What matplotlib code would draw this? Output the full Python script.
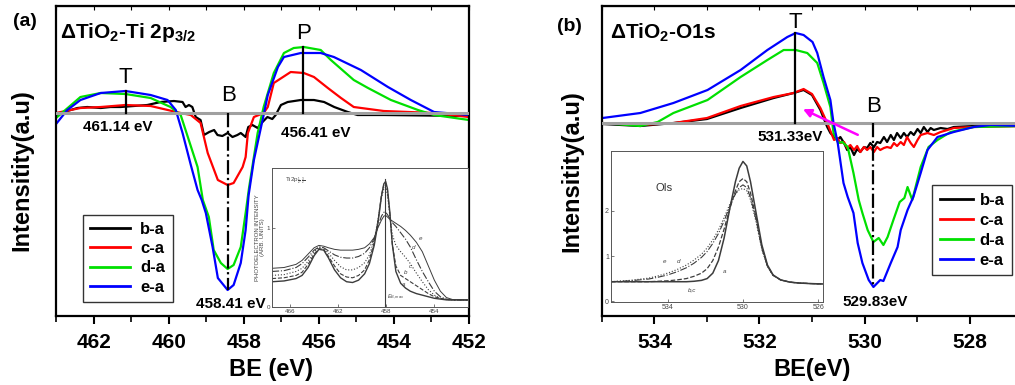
import numpy as np
import matplotlib.pyplot as plt

plt.rcParams['font.family'] = ['Liberation Sans', 'DejaVu Sans']
plt.rcParams['mathtext.fontset'] = 'custom'
plt.rcParams['mathtext.rm'] = 'Liberation Sans'
plt.rcParams['mathtext.bf'] = 'Liberation Sans:bold'
plt.rcParams['mathtext.it'] = 'Liberation Sans:italic'

# ---------------- panel (a): Ti 2p3/2 difference spectra ----------------
ti_be_b = [462.99, 462.70, 462.43, 462.17, 461.81, 461.55, 461.28, 460.93, 460.57, 460.21,
           459.86, 459.63, 459.55, 459.46, 459.37, 459.28, 459.15, 459.06, 458.92, 458.79,
           458.70, 458.57, 458.43, 458.30, 458.17, 458.08, 457.95, 457.88, 457.77, 457.63,
           457.50, 457.37, 457.24, 457.15, 457.01, 456.83, 456.48, 456.13, 455.86, 455.59,
           455.23, 454.97, 454.26, 452.0]
ti_b = [-2, 2, 5, 6, 5, 6, 6, 7, 8, 11, 12, 11, 6, 8, 6, -4, -7, -22, -19, -17,
        -22, -23, -20, -24, -22, -20, -24, -14, -12, -15, -9, -4, -6, -2, 8, 11, 13, 13, 11, 6,
        1, -2, -2, -3]

ti_be_c = [463.0, 462.35, 461.81, 461.15, 460.48, 459.68, 459.41, 459.15, 458.96, 458.69,
           458.43, 458.27, 458.03, 457.95, 457.89, 457.73, 457.47, 457.36, 457.20, 456.75,
           456.40, 456.13, 455.76, 455.41, 455.07, 454.27, 452.93, 452.0]
ti_c = [0, 5, 6, 8, 7, 0, -2, -10, -40, -67, -72, -70, -54, -44, -20, -4, 0, 6, 30, 41,
        40, 36, 25, 15, 6, 2, 0, -4]

ti_be_d = [463.0, 462.35, 461.81, 461.15, 460.48, 459.95, 459.68, 459.23, 459.09, 458.93,
           458.80, 458.61, 458.43, 458.27, 458.08, 457.95, 457.86, 457.63, 457.47, 457.20,
           456.93, 456.67, 456.40, 455.95, 455.68, 455.07, 454.69, 454.08, 453.36, 452.93, 452.0]
ti_d = [-5, 16, 20, 19, 15, 6, -2, -54, -87, -104, -137, -150, -156, -152, -134, -100, -75,
        -20, 6, 40, 60, 65, 66, 63, 53, 33, 25, 13, 3, -2, -7]

ti_be_e = [463.0, 462.7, 462.35, 461.81, 461.15, 460.48, 460.03, 459.81, 459.63, 459.41,
           459.23, 459.12, 459.01, 458.83, 458.69, 458.43, 458.27, 458.08, 457.95, 457.87,
           457.73, 457.47, 457.36, 457.09, 456.93, 456.48, 455.95, 455.60, 454.88, 454.16,
           453.55, 452.93, 452.0]
ti_e = [-11, 3, 13, 20, 22, 18, 13, 3, -20, -52, -77, -87, -100, -134, -165, -177, -172,
        -150, -117, -82, -47, -2, 18, 46, 56, 60, 60, 56, 43, 26, 13, 1, -2]

ti_marks = [461.14, 458.41, 456.41]
ti_mark_tops = [22, -177, 66]
ti_ticks = [462, 460, 458, 456, 454, 452]

# ---------------- panel (b): O1s difference spectra ----------------
o_be_b = [534.99, 534.27, 533.63, 533.0, 532.36, 531.73, 531.35, 531.16, 531.0, 530.84,
          530.71, 530.65, 530.58, 530.52, 530.46, 530.39, 530.33, 530.27, 530.20, 530.14,
          530.08, 530.01, 529.95, 529.89, 529.82, 529.76, 529.70, 529.63, 529.57, 529.50,
          529.44, 529.38, 529.31, 529.25, 529.19, 529.12, 529.06, 528.99, 528.93, 528.87,
          528.80, 528.74, 528.68, 528.55, 528.42, 528.30, 527.92, 527.0]
o_b = [-1, -3, 0, 4, 15, 25, 30, 33, 28, 13, -4, -10, -14, -17, -14, -20, -27, -24, -32, -26,
       -29, -24, -25, -20, -24, -19, -20, -14, -19, -12, -17, -10, -15, -10, -14, -9, -12, -6,
       -10, -4, -9, -5, -7, -5, -6, -4, -3, -3]

o_be_c = [534.99, 534.27, 533.63, 533.0, 532.36, 531.73, 531.35, 531.16, 531.0, 530.84,
          530.71, 530.58, 530.52, 530.46, 530.39, 530.33, 530.27, 530.20, 530.14, 530.08,
          530.01, 529.95, 529.89, 529.82, 529.76, 529.70, 529.63, 529.57, 529.50, 529.44,
          529.38, 529.31, 529.25, 529.19, 529.12, 529.06, 528.99, 528.93, 528.80, 528.68,
          528.55, 528.42, 528.30, 527.92, 527.0]
o_c = [0, -2, 0, 5, 17, 26, 30, 34, 29, 15, 0, -17, -15, -20, -19, -25, -22, -27, -23, -29,
       -24, -27, -24, -29, -24, -27, -25, -24, -25, -20, -23, -19, -22, -14, -20, -24, -17,
       -12, -10, -12, -9, -7, -5, -4, -3]

o_be_d = [534.99, 534.27, 533.94, 533.64, 532.99, 532.36, 531.85, 531.54, 531.31, 531.09,
          530.90, 530.78, 530.65, 530.59, 530.50, 530.42, 530.32, 530.21, 530.11, 530.04,
          529.94, 529.83, 529.73, 529.64, 529.56, 529.45, 529.33, 529.24, 529.18, 529.09,
          528.93, 528.78, 528.61, 528.36, 527.92, 527.0]
o_d = [0, -3, 1, 10, 23, 46, 63, 73, 73, 70, 60, 40, 16, -10, -20, -19, -24, -50, -77, -90,
       -107, -119, -115, -122, -114, -97, -79, -75, -64, -77, -44, -24, -17, -9, -4, -3]

o_be_e = [534.99, 534.27, 533.64, 532.99, 532.36, 531.85, 531.47, 531.31, 531.16, 530.99,
          530.90, 530.78, 530.65, 530.59, 530.51, 530.40, 530.32, 530.21, 530.13, 530.04,
          529.92, 529.83, 529.70, 529.64, 529.50, 529.37, 529.31, 529.18, 529.07, 528.93,
          528.80, 528.61, 528.30, 527.92, 527.60, 527.0]
o_e = [5, 10, 20, 33, 53, 73, 86, 90, 88, 81, 70, 46, 23, 0, -20, -60, -74, -90, -120, -140,
       -157, -164, -157, -158, -140, -124, -107, -87, -74, -50, -27, -14, -9, -4, -2, -3]

o_marks = [531.33, 529.83]
o_mark_tops = [90, -164]
o_ticks = [534, 532, 530, 528]

# ---------------- insets (reference spectra) ----------------
ins_ti_be = [467.5, 466.5, 465.5, 465.0, 464.5, 464.0, 463.6, 463.2, 462.8, 462.3,
             461.8, 461.3, 460.8, 460.3, 459.8, 459.4, 459.0, 458.7, 458.4, 458.2,
             458.05, 457.9, 457.7, 457.5, 457.2, 456.8, 456.4, 456.0, 455.5, 455.0,
             454.5, 454.0, 453.5, 453.0, 452.5, 451.2]
ins_ti_a = [0.32, 0.33, 0.36, 0.40, 0.50, 0.65, 0.73, 0.72, 0.62, 0.47,
            0.37, 0.32, 0.31, 0.34, 0.42, 0.55, 0.78, 1.05, 1.40, 1.56,
            1.59, 1.50, 1.20, 0.80, 0.45, 0.30, 0.24, 0.20, 0.17, 0.15,
            0.13, 0.11, 0.10, 0.09, 0.089, 0.089]
ins_ti_b = [0.36, 0.37, 0.40, 0.44, 0.54, 0.67, 0.74, 0.73, 0.64, 0.52,
            0.42, 0.38, 0.37, 0.40, 0.47, 0.60, 0.82, 1.08, 1.42, 1.55,
            1.57, 1.48, 1.18, 0.80, 0.52, 0.40, 0.36, 0.32, 0.27, 0.22,
            0.17, 0.13, 0.11, 0.095, 0.09, 0.089]
ins_ti_c = [0.40, 0.41, 0.45, 0.49, 0.58, 0.70, 0.76, 0.75, 0.68, 0.59,
            0.51, 0.47, 0.47, 0.50, 0.56, 0.66, 0.85, 1.10, 1.38, 1.50,
            1.52, 1.42, 1.15, 0.92, 0.78, 0.70, 0.63, 0.55, 0.43, 0.32,
            0.22, 0.15, 0.11, 0.095, 0.09, 0.089]
ins_ti_d = [0.45, 0.46, 0.50, 0.55, 0.63, 0.72, 0.76, 0.75, 0.71, 0.66,
            0.63, 0.62, 0.62, 0.64, 0.68, 0.75, 0.87, 1.02, 1.15, 1.20,
            1.20, 1.17, 1.12, 1.07, 1.02, 0.94, 0.86, 0.76, 0.60, 0.45,
            0.32, 0.20, 0.13, 0.10, 0.09, 0.089]
ins_ti_e = [0.49, 0.50, 0.54, 0.59, 0.67, 0.75, 0.78, 0.77, 0.75, 0.73,
            0.72, 0.72, 0.72, 0.73, 0.75, 0.80, 0.88, 1.00, 1.10, 1.15,
            1.16, 1.14, 1.11, 1.09, 1.06, 1.02, 0.97, 0.91, 0.82, 0.70,
            0.52, 0.34, 0.20, 0.12, 0.095, 0.089]
ins_ti_ebmax = 458.1

ins_o_be = [537.0, 536.0, 535.0, 534.5, 534.0, 533.5, 533.0, 532.6, 532.2, 531.9,
            531.6, 531.3, 531.0, 530.7, 530.4, 530.2, 530.0, 529.8, 529.6, 529.3,
            529.0, 528.7, 528.4, 528.0, 527.5, 527.0, 526.5, 525.75]
ins_o_a = [0.43, 0.43, 0.43, 0.43, 0.43, 0.43, 0.43, 0.44, 0.46, 0.50,
           0.62, 0.90, 1.40, 2.05, 2.65, 2.95, 3.10, 3.00, 2.65, 1.95,
           1.25, 0.80, 0.58, 0.47, 0.42, 0.40, 0.39, 0.38]
ins_o_bc = [0.43, 0.43, 0.43, 0.44, 0.45, 0.47, 0.50, 0.55, 0.62, 0.72,
            0.90, 1.20, 1.60, 2.05, 2.45, 2.65, 2.72, 2.65, 2.40, 1.85,
            1.20, 0.78, 0.57, 0.47, 0.42, 0.40, 0.39, 0.38]
ins_o_d = [0.43, 0.45, 0.49, 0.53, 0.58, 0.65, 0.74, 0.84, 0.97, 1.10,
           1.28, 1.50, 1.78, 2.10, 2.38, 2.52, 2.58, 2.52, 2.30, 1.80,
           1.17, 0.77, 0.57, 0.47, 0.42, 0.40, 0.39, 0.38]
ins_o_e = [0.43, 0.46, 0.51, 0.56, 0.62, 0.70, 0.80, 0.91, 1.04, 1.18,
           1.36, 1.58, 1.85, 2.15, 2.38, 2.47, 2.50, 2.45, 2.25, 1.75,
           1.15, 0.76, 0.57, 0.47, 0.42, 0.40, 0.39, 0.38]

labels = ['b-a', 'c-a', 'd-a', 'e-a']
colors = ['#000000', '#FF0000', '#00E000', '#0000FF']

fig = plt.figure(figsize=(10.15, 3.85), dpi=100)
ax1 = fig.add_axes([0.0552, 0.1792, 0.4069, 0.8052])
ax2 = fig.add_axes([0.5931, 0.1792, 0.4138, 0.8052])


def style_main(ax, ticks, minor, xlim, ylim, xlabel, label_x):
    ax.set_xlim(*xlim)
    ax.set_ylim(*ylim)
    ax.set_yticks([])
    ax.set_xticks(ticks)
    ax.set_xticklabels([str(t) for t in ticks], fontsize=15, fontweight='bold')
    ax.set_xticks(minor, minor=True)
    ax.tick_params(axis='x', which='major', direction='out', length=6, width=1.5, pad=6)
    ax.tick_params(axis='x', which='minor', direction='out', length=4, width=1.2)
    for s in ax.spines.values():
        s.set_linewidth(1.6)
    top = ax.secondary_xaxis('top')
    top.set_xticks(list(range(int(min(xlim)), int(max(xlim)) + 1)))
    top.tick_params(direction='in', length=3, width=0.8, labeltop=False)
    ax.set_xlabel(xlabel, fontsize=17, fontweight='bold')
    ax.xaxis.set_label_coords(label_x, -0.135)
    ax.set_ylabel('Intensitity(a.u)', fontsize=17, fontweight='bold')


# ---- panel (a)
ax1.axhline(0, color='#A0A0A0', lw=2.2, zorder=3)
for be, y, lab, col in zip([ti_be_b, ti_be_c, ti_be_d, ti_be_e], [ti_b, ti_c, ti_d, ti_e],
                           labels, colors):
    ax1.plot(be, y, color=col, lw=1.6, label=lab, zorder=2)
ax1.plot([ti_marks[0]] * 2, [0, ti_mark_tops[0]], color='k', lw=1.6, zorder=4)
ax1.plot([ti_marks[1]] * 2, [0, ti_mark_tops[1]], color='k', lw=1.6, ls='-.', zorder=4)
ax1.plot([ti_marks[2]] * 2, [0, ti_mark_tops[2]], color='k', lw=1.6, zorder=4)
ax1.text(461.15, 36, 'T', fontsize=16, ha='center', va='center')
ax1.text(458.4, 18, 'B', fontsize=16, ha='center', va='center')
ax1.text(456.4, 80, 'P', fontsize=16, ha='center', va='center')
ax1.text(461.36, -14, '461.14 eV', fontsize=11, fontweight='bold', ha='center', va='center')
ax1.text(456.08, -20, '456.41 eV', fontsize=11, fontweight='bold', ha='center', va='center')
ax1.text(458.35, -191, '458.41 eV', fontsize=11, fontweight='bold', ha='center', va='center')
ax1.text(0.01, 0.913, r'ΔTiO$_\mathbf{2}$-Ti 2p$_\mathbf{3/2}$', transform=ax1.transAxes,
         fontsize=15, fontweight='bold', va='center')
style_main(ax1, ti_ticks, [463, 461, 459, 457, 455, 453], (463, 452), (-203, 107),
           'BE (eV)', 0.52)
ax1.yaxis.set_label_coords(-0.056, 0.47)
leg1 = ax1.legend(loc='lower left', bbox_to_anchor=(0.065, 0.045),
                  prop={'weight': 'bold', 'size': 12}, frameon=True, fancybox=False,
                  edgecolor='k', labelspacing=0.25, handlelength=2.4, handletextpad=0.6,
                  borderpad=0.45, borderaxespad=0)
leg1.get_frame().set_linewidth(1.0)
for ln in leg1.get_lines():
    ln.set_linewidth(2)

# ---- panel (b)
ax2.axhline(0, color='#A0A0A0', lw=2.2, zorder=3)
for be, y, lab, col in zip([o_be_b, o_be_c, o_be_d, o_be_e], [o_b, o_c, o_d, o_e],
                           labels, colors):
    ax2.plot(be, y, color=col, lw=1.6, label=lab, zorder=2)
ax2.plot([o_marks[0]] * 2, [0, o_mark_tops[0]], color='k', lw=1.6, zorder=4)
ax2.plot([o_marks[1]] * 2, [0, o_mark_tops[1]], color='k', lw=1.6, ls='-.', zorder=4)
ax2.text(531.31, 101, 'T', fontsize=16, ha='center', va='center')
ax2.text(529.83, 17, 'B', fontsize=16, ha='center', va='center')
ax2.text(531.41, -14, '531.33eV', fontsize=11, fontweight='bold', ha='center', va='center')
ax2.text(529.8, -179, '529.83eV', fontsize=11, fontweight='bold', ha='center', va='center')
ax2.annotate('', xy=(531.22, 15), xytext=(530.08, -13),
             arrowprops=dict(arrowstyle='-|>', color='#FF00FF', lw=1.8, mutation_scale=12),
             zorder=5)
ax2.text(0.019, 0.913, r'ΔTiO$_\mathbf{2}$-O1s', transform=ax2.transAxes,
         fontsize=15, fontweight='bold', va='center')
style_main(ax2, o_ticks, [535, 533, 531, 529, 527], (535, 527), (-193, 117), 'BE(eV)', 0.5)
ax2.yaxis.set_label_coords(-0.045, 0.468)
leg2 = ax2.legend(loc='lower left', bbox_to_anchor=(0.786, 0.132),
                  prop={'weight': 'bold', 'size': 12}, frameon=True, fancybox=False,
                  edgecolor='k', labelspacing=0.3, handlelength=2.0, handletextpad=0.4,
                  borderpad=0.45, borderaxespad=0)
leg2.get_frame().set_linewidth(1.0)
for ln in leg2.get_lines():
    ln.set_linewidth(2)

fig.text(0.013, 0.945, '(a)', fontsize=14, fontweight='bold', va='center')
fig.text(0.549, 0.930, '(b)', fontsize=14, fontweight='bold', va='center')

# ---- inset (a): Ti 2p reference spectra
gray = '#3C3C3C'
ins1 = fig.add_axes([0.268, 0.2026, 0.1931, 0.361])
for y, ls, lw in zip([ins_ti_a, ins_ti_b, ins_ti_c, ins_ti_d, ins_ti_e],
                     ['-', '--', ':', '-.', '-'], [1.0, 0.8, 0.8, 0.8, 0.7]):
    ins1.plot(ins_ti_be, y, color=gray, lw=lw, ls=ls)
ins1.plot([ins_ti_ebmax] * 2, [0, 1.62], color=gray, lw=0.8)
ins1.set_xlim(467.5, 451.2)
ins1.set_ylim(0, 1.76)
ins1.set_xticks([466, 462, 458, 454])
ins1.set_yticks([0, 1])
ins1.tick_params(labelsize=4.5, length=2, width=0.5, direction='in', pad=1.5,
                 colors='#444444')
ins1.set_ylabel('PHOTOELECTRON INTENSITY\n(ARB. UNITS)', fontsize=4.3, labelpad=1,
                color='#444444', linespacing=1.1)
for s in ins1.spines.values():
    s.set_linewidth(0.7)
    s.set_color('#555555')
ins1.text(466.4, 1.6, r'Ti2p$_{\frac{1}{2},\frac{3}{2}}$', fontsize=4.5, color='#444444',
          va='center')
for t, xx, yy in zip(['e', 'd', 'c', 'b', 'a'], [455.3, 455.9, 456.1, 456.5, 456.7],
                     [0.85, 0.74, 0.50, 0.42, 0.27]):
    ins1.text(xx, yy, t, fontsize=4.5, style='italic', color='#444444')
ins1.text(457.9, 0.1, r'$E_{B,max}$', fontsize=4, color='#444444')

# ---- inset (b): O1s reference spectra
ins2 = fig.add_axes([0.602, 0.2156, 0.2089, 0.392])
for y, ls, lw in zip([ins_o_a, ins_o_bc, ins_o_d, ins_o_e], ['-', '--', '-.', ':'],
                     [1.1, 0.9, 0.8, 0.8]):
    ins2.plot(ins_o_be, y, color=gray, lw=lw, ls=ls)
ins2.set_xlim(537, 525.75)
ins2.set_ylim(-0.02, 3.33)
ins2.set_xticks([534, 530, 526])
ins2.set_yticks([0, 1, 2])
ins2.tick_params(labelsize=5, length=2, width=0.5, direction='in', pad=1.5,
                 colors='#444444')
for s in ins2.spines.values():
    s.set_linewidth(0.7)
    s.set_color('#555555')
ins2.text(534.2, 2.5, 'OIs', fontsize=8, color='#333333', ha='center', va='center')
for t, xx, yy in zip(['e', 'd', 'a', 'b,c'], [534.14, 533.44, 531.0, 532.7],
                     [0.85, 0.85, 0.62, 0.22]):
    ins2.text(xx, yy, t, fontsize=4.5, style='italic', color='#444444', ha='center')

fig.savefig('out.png', dpi=100)
